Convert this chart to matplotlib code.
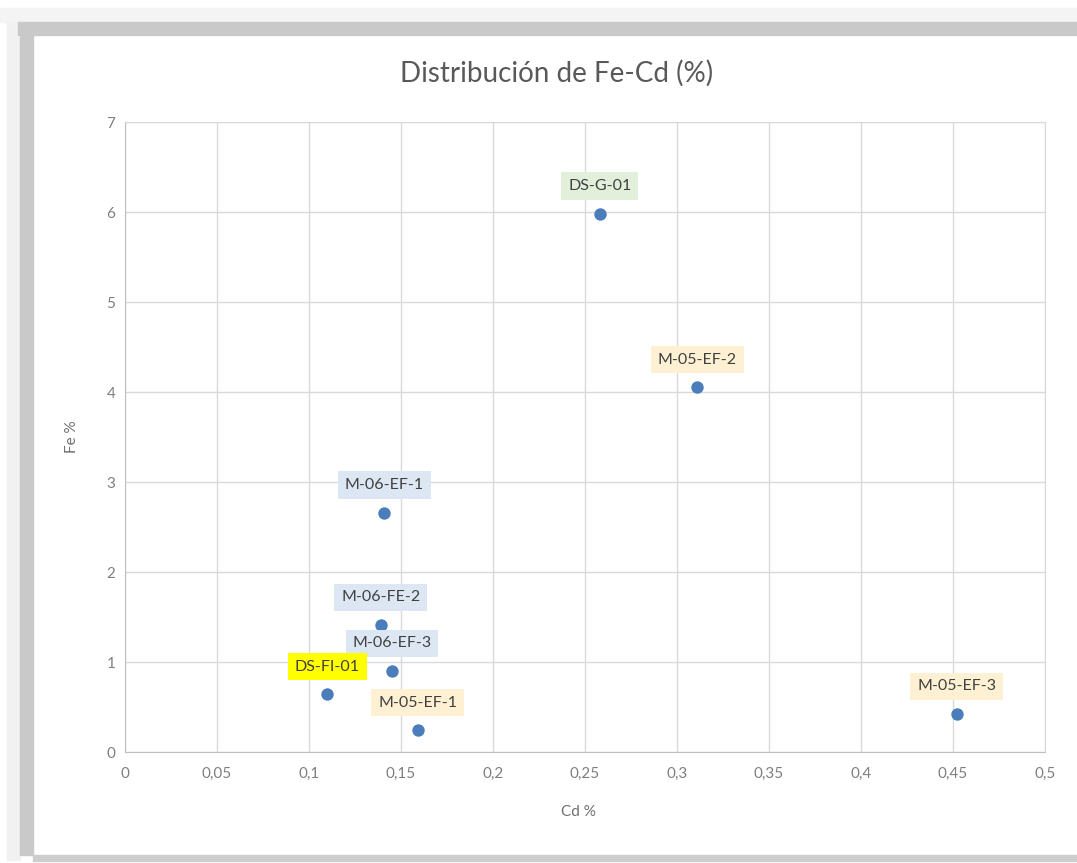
import matplotlib
matplotlib.use("Agg")
import matplotlib.pyplot as plt
from matplotlib.patches import Rectangle
from matplotlib.ticker import FuncFormatter, MultipleLocator

# data
samples = ["DS-G-01", "M-05-EF-2", "M-06-EF-1", "M-06-FE-2",
           "M-06-EF-3", "DS-FI-01", "M-05-EF-1", "M-05-EF-3"]
cd_pct = [0.258, 0.311, 0.141, 0.139, 0.145, 0.110, 0.159, 0.452]
fe_pct = [5.98, 4.05, 2.66, 1.41, 0.90, 0.64, 0.24, 0.42]
label_bg = ["#e2efda", "#fdf0d3", "#dde7f3", "#dde7f3",
            "#dde7f3", "#ffff00", "#fdf0d3", "#fdf0d3"]

W, H = 1077, 863
plt.rcParams['font.family'] = ['Lato', 'DejaVu Sans']

fig = plt.figure(figsize=(W / 100, H / 100), dpi=100)
fig.patch.set_facecolor("white")


def px_rect(x0, y0, x1, y1, color):
    # rectangle given in pixel coords (origin top-left)
    fig.patches.append(Rectangle((x0 / W, 1 - y1 / H), (x1 - x0) / W, (y1 - y0) / H,
                                 transform=fig.transFigure, color=color, zorder=0))


# screenshot frame / shadow
px_rect(0, 8, W, 22, "#f4f4f4")
px_rect(7, 22, 20, 860, "#f1f1f1")
px_rect(18, 22, W, 35, "#c9c9c9")
px_rect(20, 35, 33, 855, "#c9c9c9")
px_rect(33, 855, W, 861, "#cdcdcd")

ax = fig.add_axes([125 / W, 1 - 752 / H, (1045 - 125) / W, (752 - 122) / H])
ax.scatter(cd_pct, fe_pct, s=80, color="#4a7dba", zorder=3, linewidths=0)

for name, x, y, bg in zip(samples, cd_pct, fe_pct, label_bg):
    ax.annotate(name, (x, y), xytext=(0, 20), textcoords="offset points",
                ha="center", va="center", fontsize=11.5, color="#404040",
                bbox=dict(boxstyle="square,pad=0.42", fc=bg, ec="none"), zorder=4)

ax.set_xlim(0, 0.5)
ax.set_ylim(0, 7)
ax.xaxis.set_major_locator(MultipleLocator(0.05))
ax.yaxis.set_major_locator(MultipleLocator(1))
ax.xaxis.set_major_formatter(FuncFormatter(lambda v, p: f"{v:.2f}".rstrip("0").rstrip(".").replace(".", ",")))
ax.yaxis.set_major_formatter(FuncFormatter(lambda v, p: f"{v:g}"))
ax.grid(True, color="#d9d9d9", linewidth=1)
ax.set_axisbelow(True)
for side in ["top", "right"]:
    ax.spines[side].set_color("#d9d9d9")
for side in ["left", "bottom"]:
    ax.spines[side].set_color("#bfbfbf")
ax.tick_params(length=0, labelsize=11, labelcolor="#7f7f7f")
ax.tick_params(axis="y", pad=7)
ax.tick_params(axis="x", pad=11)

fig.text(557 / W, 1 - 73 / H, "Distribución de Fe-Cd (%)", ha="center", va="center",
         fontsize=20, color="#595959")
fig.text(578 / W, 1 - 812 / H, "Cd %", ha="center", va="center", fontsize=11, color="#6f6f6f")
fig.text(72 / W, 1 - 437 / H, "Fe %", ha="center", va="center", rotation=90,
         fontsize=11, color="#6f6f6f")

fig.savefig("out.png", dpi=100)
